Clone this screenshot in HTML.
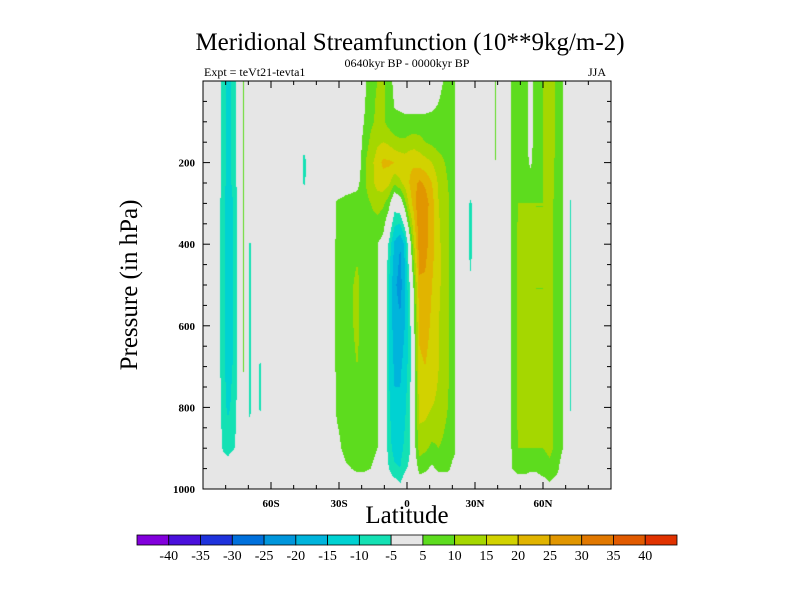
<!DOCTYPE html>
<html><head><meta charset="utf-8">
<style>
body{margin:0;background:#fff;width:800px;height:600px;overflow:hidden;position:relative;font-family:"Liberation Serif",serif;}
.t{position:absolute;white-space:nowrap;color:#000;}
#plot{position:absolute;left:203px;top:81px;}
svg{position:absolute;left:0;top:0;}
</style></head><body>
<div class="t" style="left:0;width:820px;text-align:center;top:29px;font-size:25px;">Meridional Streamfunction (10**9kg/m-2)</div>
<div class="t" style="left:0;width:814px;text-align:center;top:56px;font-size:12px;">0640kyr BP - 0000kyr BP</div>
<div class="t" style="left:204px;top:65px;font-size:12px;">Expt = teVt21-tevta1</div>
<div class="t" style="left:588px;top:65px;font-size:12px;">JJA</div>
<div class="t" style="left:130px;top:285px;font-size:25px;transform:translate(-50%,-50%) rotate(-90deg);">Pressure (in hPa)</div>
<div class="t" style="left:0;width:814px;text-align:center;top:502px;font-size:25px;">Latitude</div>
<canvas id="plot" width="408" height="408"></canvas>
<svg id="ov" width="800" height="600"></svg>
<script>
const lats=[-90,-84,-81,-79,-76,-74,-72.2,-70.7,-69.3,-67.5,-64.8,-63,-50,-47,-45.5,-42,-33,-31,-27,-22,-19,-16,-13,-10.5,-8,-5.5,-3,-1,1,3,5.5,8,11,14,18,21,23,25,28,31,37,39,41,44,46.5,49,51.5,54.5,57,60,63,66,68.5,70.5,72,73.5,90];
const pres=[0,100,150,200,250,300,400,500,600,700,800,900,950,1000];
const Z=[
[0,0,0,0,0,0,0,0,0,0,0,0,0,0],
[0,0,0,0,0,0,0,0,0,0,0,0,0,0],
[-8,-8,-8,-8,-8,-9,-9,-9,-9,-9,-8,-6,0,0],
[-12,-12,-12,-12,-12,-13,-13,-13,-13,-12,-11,-7,-2,0],
[-8,-8,-8,-8,-8,-9,-9,-9,-9,-9,-8,-5,0,0],
[0,0,0,0,0,0,0,0,0,0,0,0,0,0],
[6,6,6,6,6,6,6,6,6,6,0,0,0,0],
[0,0,0,0,0,0,0,0,0,0,0,0,0,0],
[0,0,0,0,0,0,-6,-6,-6,-6,-6,-5,0,0],
[0,0,0,0,0,0,0,0,0,0,0,0,0,0],
[0,0,0,0,0,0,0,0,0,-6,-6,0,0,0],
[0,0,0,0,0,0,0,0,0,0,0,0,0,0],
[0,0,0,0,0,0,0,0,0,0,0,0,0,0],
[0,0,0,0,0,0,0,0,0,0,0,0,0,0],
[0,0,-3,-7,-6,0,0,0,0,0,0,0,0,0],
[0,0,0,0,0,0,0,0,0,0,0,0,0,0],
[0,0,0,0,0,0,0,0,0,0,0,0,0,0],
[0,0,0,0,0,6,7,7,7,7,6,3,0,0],
[0,0,0,0,2,7,8,8,8,8,8,7,4,0],
[0,0,0,0,3,8,9,11,11,10,9,8,6,0],
[3,5,7,9,9,8,8,8,8,8,8,7,6,0],
[9,9,11,13,13,10,7,6,6,6,6,6,5,0],
[10,11,14,18,17,12,5,5,5,5,5,5,4,0],
[11,11,15,21,18,11,3,3,3,3,3,3,2,0],
[8,8,14,21,16,7,-6,-10,-10,-10,-9,-8,-5,0],
[3,6,12,20,11,-2,-16,-19,-18,-16,-14,-12,-9,0],
[2,6,11,19,14,0,-20,-22,-19,-16,-14,-12,-10,-3],
[1,6,11,18,17,8,-14,-16,-15,-13,-11,-9,-6,0],
[1,6,12,19,20,17,0,-6,-8,-8,-7,-6,-4,0],
[1,6,13,19,23,22,14,6,3,2,2,2,0,0],
[1,6,12,18,26,30,28,24,21,19,17,12,7,0],
[1,6,10,17,24,28,27,24,22,20,17,11,6,0],
[2,6,9,15,20,22,22,20,19,18,15,9,4,0],
[4,6,8,12,14,15,16,16,15,15,14,10,6,0],
[6,7,8,9,10,11,11,11,11,11,10,8,6,0],
[6,6,6,6,6,6,6,6,6,6,6,6,3,0],
[0,0,0,0,0,0,0,0,0,0,0,0,0,0],
[0,0,0,0,0,0,0,0,0,0,0,0,0,0],
[0,0,0,0,0,-6,-7,-4,0,0,0,0,0,0],
[0,0,0,0,0,0,0,0,0,0,0,0,0,0],
[0,0,0,0,0,0,0,0,0,0,0,0,0,0],
[6,6,6,5,0,0,0,0,0,0,0,0,0,0],
[0,0,0,0,0,0,0,0,0,0,0,0,0,0],
[0,0,0,0,0,0,0,0,0,0,0,0,0,0],
[6,6,6,6,6,6,6,6,6,6,6,6,5,0],
[8,8,8,8,9,10,11,11,11,11,11,10,7,0],
[8,8,8,8,9,10,10,10,10,10,10,10,7,0],
[3,3,3,4,8,10,11,11,11,11,11,10,6,0],
[8,8,8,9,9,10,10,10,10,10,11,10,6,0],
[10,10,10,10,10,10,10,10,10,10,10,10,8,0],
[15,14,13,12,12,11,11,11,11,11,11,11,9,3],
[9,9,9,9,9,9,9,9,9,9,9,9,7,0],
[5.5,5.5,5.5,5.5,5.5,5.5,5.5,5.5,5.5,5.5,5.5,5.5,2,0],
[0,0,0,0,0,0,0,0,0,0,0,0,0,0],
[0,0,0,0,-3,-6,-6,-6,-6,-6,-6,0,0,0],
[0,0,0,0,0,0,0,0,0,0,0,0,0,0],
[0,0,0,0,0,0,0,0,0,0,0,0,0,0]];
const levels=[-40,-35,-30,-25,-20,-15,-10,-5,5,10,15,20,25,30,35,40];
const colors=["#8200dc","#4a10dc","#1e32dc","#0070dc","#0096dc","#00b4dc","#00d2d2","#14e1b4","#e6e6e6","#5ddc1e","#a5d700","#d2d200","#e1b400","#e19600","#e17800","#e15a00","#e13200"];
const xTicks=[-60,-30,0,30,60], xLabels=["60S","30S","0","30N","60N"];
const yTicks=[200,400,600,800,1000];

const W=408,H=408;
const xs=lat=>(lat+90)/180*W;
const ys=p=>p/1000*H;
function idx(arr,v){for(let i=0;i<arr.length-1;i++)if(v<=arr[i+1])return i;return arr.length-2;}
function val(lat,p){const i=idx(lats,lat),j=idx(pres,p);
 const tx=(lat-lats[i])/(lats[i+1]-lats[i]),ty=(p-pres[j])/(pres[j+1]-pres[j]);
 const a=Z[i][j],b=Z[i+1][j],c=Z[i][j+1],d=Z[i+1][j+1];
 return (a*(1-tx)+b*tx)*(1-ty)+(c*(1-tx)+d*tx)*ty;}
function col(v){let k=0;while(k<levels.length&&v>=levels[k])k++;return colors[k];}
const ctx=document.getElementById('plot').getContext('2d');
ctx.fillStyle="#e6e6e6";ctx.fillRect(0,0,W,H);
for(let py=0;py<H;py+=1)for(let px=0;px<W;px+=1){
 const lat=(px+0.5)/W*180-90,p=(py+0.5)/H*1000;
 const c=col(val(lat,p));if(c!=="#e6e6e6"){ctx.fillStyle=c;ctx.fillRect(px,py,1,1);}}

const NS="http://www.w3.org/2000/svg";const sv=document.getElementById('ov');
function mk(t,a){const e=document.createElementNS(NS,t);for(const k in a)e.setAttribute(k,a[k]);sv.appendChild(e);return e;}
const X0=203,Y0=81;
const fr=mk('rect',{x:X0,y:Y0,width:W,height:H,fill:'none',stroke:'#000','stroke-width':1});


for(let l=-80;l<=80;l+=10){const maj=xTicks.includes(l);const x=X0+xs(l),L=maj?7:4;
 const t1=mk('line',{x1:x,y1:Y0+H,x2:x,y2:Y0+H-L,stroke:'#000'});
 
 
 const t2=mk('line',{x1:x,y1:Y0,x2:x,y2:Y0+L,stroke:'#000'});
 
 }
xTicks.forEach((l,i)=>{const t=mk('text',{x:X0+xs(l),y:Y0+H+18,'text-anchor':'middle','font-size':11,'font-weight':'bold','font-family':'Liberation Serif,serif'});t.textContent=xLabels[i];
 
 });
for(let p=50;p<=1000;p+=50){const maj=yTicks.includes(p);const y=Y0+ys(p),L=maj?7:4;
 const t1=mk('line',{x1:X0,y1:y,x2:X0+L,y2:y,stroke:'#000'});
 
 
 const t2=mk('line',{x1:X0+W,y1:y,x2:X0+W-L,y2:y,stroke:'#000'});
 
 }
yTicks.forEach(p=>{const t=mk('text',{x:X0-8,y:Y0+ys(p)+4,'text-anchor':'end','font-size':11,'font-weight':'bold','font-family':'Liberation Serif,serif'});t.textContent=p;
 
 });
const CB0=137,CBW=540/colors.length,CBY=535;
colors.forEach((c,i)=>{const r=mk('rect',{x:CB0+i*CBW,y:CBY,width:CBW,height:10,fill:c,stroke:'#000','stroke-width':0.8});
 
 });
levels.forEach((v,i)=>{const t=mk('text',{x:CB0+(i+1)*CBW,y:CBY+25,'text-anchor':'middle','font-size':14,'font-family':'Liberation Serif,serif'});t.textContent=v;
 
 });
</script>
</body></html>
